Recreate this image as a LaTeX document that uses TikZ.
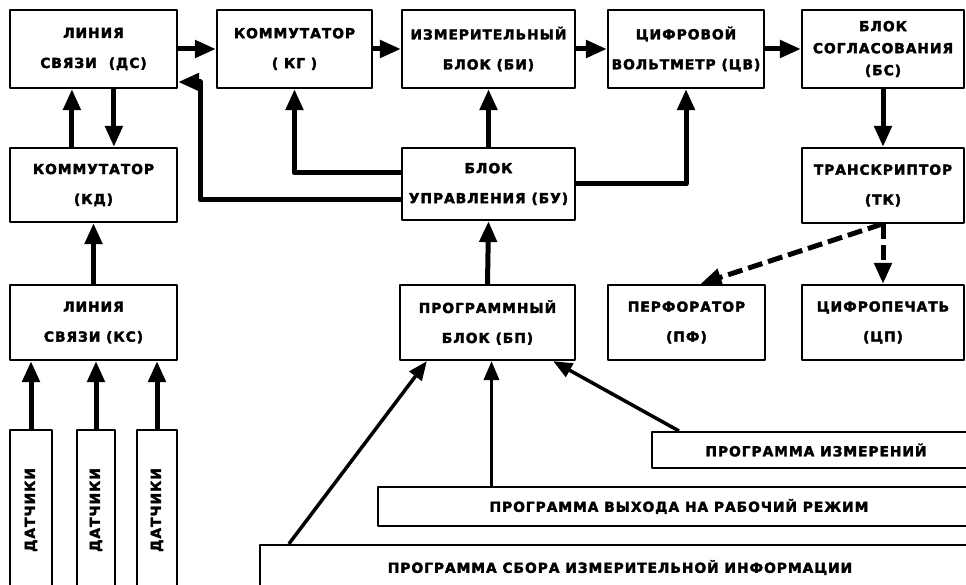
\documentclass[tikz,border=0pt]{standalone}
\usepackage{fontspec}
\setmainfont{DejaVu Sans}[LetterSpace=7, BoldFeatures={FakeBold=2.5}]
\usetikzlibrary{arrows.meta}
\begin{document}
\begin{tikzpicture}[x=1pt, y=-1pt, line join=round, >={Triangle[length=21pt,width=17pt]},
	blok/.style={draw, line width=2.2pt, inner sep=0pt, align=center, font=\bfseries\fontsize{13.8}{30}\selectfont},
	strelka/.style={->, line width=5pt},
	tonkaya/.style={->, line width=3.5pt, >={Triangle[length=19pt,width=15pt]}},
	punktir/.style={->, line width=5pt, dash pattern=on 15pt off 6pt}]
	\useasboundingbox (0,0) rectangle (966,585);
	% верхний ряд
	\node[blok, minimum width=167, minimum height=78] (ds) at (93.5,49) {ЛИНИЯ\\СВЯЗИ\hspace{12pt}(ДС)};
	\node[blok, minimum width=155, minimum height=78] (kg) at (294.5,49) {КОММУТАТОР\\( КГ )};
	\node[blok, minimum width=173, minimum height=78] (bi) at (488.5,49) {ИЗМЕРИТЕЛЬНЫЙ\\БЛОК (БИ)};
	\node[blok, minimum width=156, minimum height=78] (cv) at (686,49) {ЦИФРОВОЙ\\ВОЛЬТМЕТР (ЦВ)};
	\node[blok, minimum width=162, minimum height=78, font=\bfseries\fontsize{13.8}{22}\selectfont] (bs) at (883,49) {БЛОК\\СОГЛАСОВАНИЯ\\(БС)};
	% средний ряд
	\node[blok, minimum width=167, minimum height=74] (kd) at (93.5,185) {КОММУТАТОР\\(КД)};
	\node[blok, minimum width=173, minimum height=72] (bu) at (488.5,184) {БЛОК\\УПРАВЛЕНИЯ (БУ)};
	\node[blok, minimum width=162, minimum height=75] (tk) at (883,185.5) {ТРАНСКРИПТОР\\(ТК)};
	% нижний ряд
	\node[blok, minimum width=167, minimum height=75] (ks) at (93.5,322.5) {ЛИНИЯ\\СВЯЗИ (КС)};
	\node[blok, minimum width=175, minimum height=75] (bp) at (487.5,322.5) {ПРОГРАММНЫЙ\\БЛОК (БП)};
	\node[blok, minimum width=157, minimum height=75] (pf) at (686.5,322.5) {ПЕРФОРАТОР\\(ПФ)};
	\node[blok, minimum width=162, minimum height=75] (cp) at (883,322.5) {ЦИФРОПЕЧАТЬ\\(ЦП)};
	% программы
	\node[blok, minimum width=328, minimum height=36] (izm) at (816,450) {ПРОГРАММА ИЗМЕРЕНИЙ};
	\node[blok, minimum width=602, minimum height=39] (vyh) at (679,506.5) {ПРОГРАММА ВЫХОДА НА РАБОЧИЙ РЕЖИМ};
	\node[blok, minimum width=720, minimum height=45] (sbor) at (620,567.5) {ПРОГРАММА СБОРА ИЗМЕРИТЕЛЬНОЙ ИНФОРМАЦИИ};
	% датчики
	\foreach \x/\w/\i in {31/42/1, 96/38/2, 157/40/3}{
		\node[blok, rotate=90, minimum width=160, minimum height=\w] (d\i) at (\x,510) {ДАТЧИКИ};
		\draw[strelka] (d\i.east) -- (d\i.east |- ks.south);
	}
	% связи
	\draw[strelka] (ds.east) -- (kg.west);
	\draw[strelka] (kg.east) -- (bi.west);
	\draw[strelka] (bi.east) -- (cv.west);
	\draw[strelka] (cv.east) -- (bs.west);
	\draw[strelka] (bs.south) -- (tk.north);
	\draw[strelka] ([xshift=63pt]kd.north west) -- ([xshift=63pt]ds.south west);
	\draw[strelka] ([xshift=105pt]ds.south west) -- ([xshift=105pt]kd.north west);
	\draw[strelka] (ks.north) -- (kd.south);
	\draw[strelka] (bu.north) -- (bi.south);
	\draw[strelka] (bp.north) -- (bu.south);
	\draw[strelka] (bu.east) -| (cv.south);
	\draw[strelka] ([yshift=11pt]bu.west) -| (kg.south);
	\coordinate (povorot) at (200,82);
	\draw[strelka] ([yshift=-16pt]bu.west) -| (povorot) -- (povorot -| ds.east);
	\draw[punktir] ([xshift=-1pt]tk.south) -- ([xshift=14pt]pf.north);
	\draw[punktir] (tk.south) -- (cp.north);
	% входы программного блока
	\coordinate (vh) at ([xshift=4pt]bp.south);
	\draw[tonkaya] ([xshift=28pt]izm.north west) -- ([xshift=-23pt]bp.south east);
	\draw[tonkaya] (vh |- vyh.north) -- (vh);
	\draw[tonkaya] ([xshift=30pt]sbor.north west) -- ([xshift=28pt]bp.south west);
\end{tikzpicture}
\end{document}
